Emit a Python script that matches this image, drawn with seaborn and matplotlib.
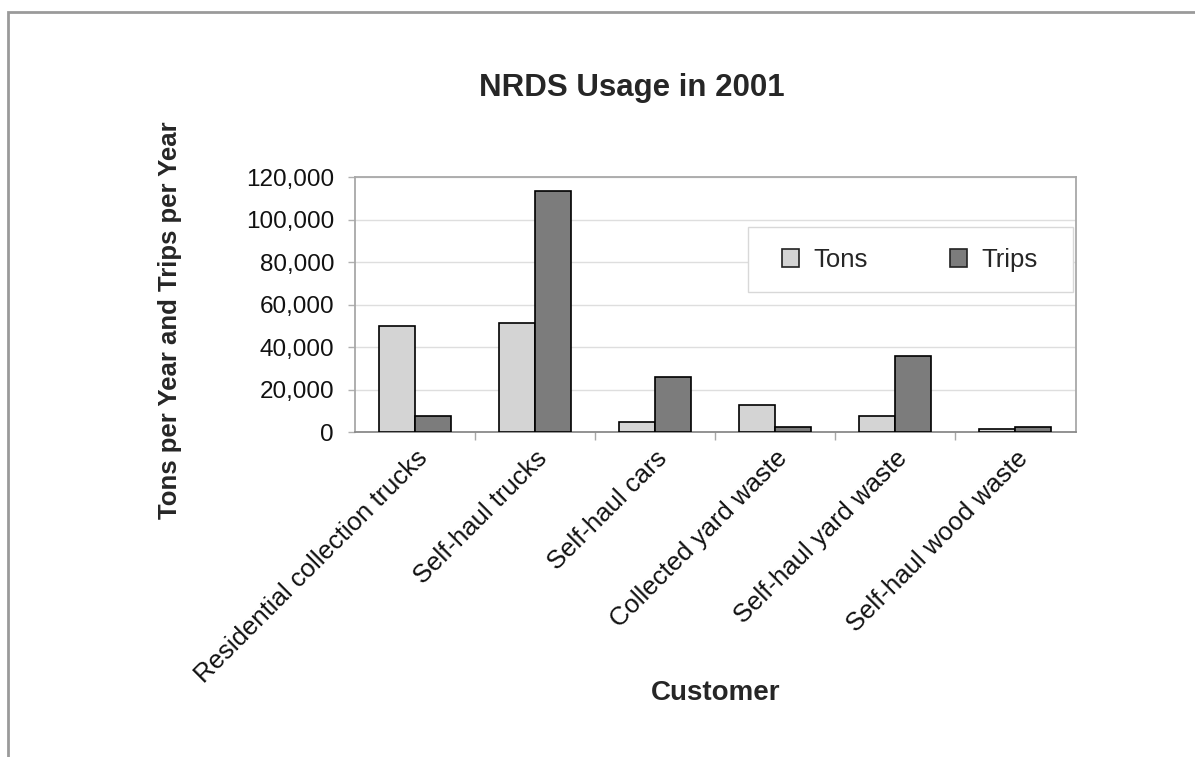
import matplotlib
matplotlib.use("Agg")
import matplotlib.pyplot as plt
from matplotlib.patches import Rectangle
from matplotlib.ticker import FuncFormatter, FixedLocator
import seaborn as sns
import pandas as pd

customers = [
    "Residential collection trucks",
    "Self-haul trucks",
    "Self-haul cars",
    "Collected yard waste",
    "Self-haul yard waste",
    "Self-haul wood waste",
]
tons = [50000, 51500, 5000, 13000, 7500, 1500]
trips = [7500, 113500, 26000, 2500, 36000, 2500]
series = ["Tons", "Trips"]
colors = ["#d4d4d4", "#7c7c7c"]

df = pd.DataFrame({
    "Customer": customers * 2,
    "Series": [series[0]] * len(customers) + [series[1]] * len(customers),
    "Value": tons + trips,
})

sns.set_theme(style="white")
plt.rcParams["font.family"] = ["Liberation Sans", "DejaVu Sans"]

fig = plt.figure(figsize=(11.95, 7.57), dpi=100)
ax = fig.add_axes([0.297, 0.429, 0.603, 0.337])

sns.barplot(data=df, x="Customer", y="Value", hue="Series", order=customers,
            hue_order=series, palette=colors, width=0.6, edgecolor="black",
            linewidth=1.2, saturation=1, ax=ax, zorder=3)

ax.set_ylim(0, 120000)
ax.set_xlim(-0.5, len(customers) - 0.5)
ax.set_yticks(range(0, 120001, 20000))
ax.yaxis.set_major_formatter(FuncFormatter(lambda v, p: f"{int(v):,}"))
ax.grid(axis="y", color="#dedede", linewidth=1, zorder=0)
ax.set_axisbelow(True)

for s in ax.spines.values():
    s.set_visible(True)
    s.set_color("#a8a8a8")
    s.set_linewidth(1.3)
ax.spines["bottom"].set_color("#8a8a8a")

ax.tick_params(axis="y", labelsize=17.5, color="#b0b0b0", labelcolor="#111111",
               length=5, width=1, direction="out", left=True, pad=10)
ax.set_xticks(range(len(customers)))
ax.set_xticklabels(customers, rotation=45, ha="right", rotation_mode="anchor",
                   fontsize=18.5, color="#111111")
ax.tick_params(axis="x", length=0, pad=10)
ax.xaxis.set_minor_locator(FixedLocator([i + 0.5 for i in range(len(customers) - 1)]))
ax.tick_params(axis="x", which="minor", length=6, width=1, color="#a8a8a8",
               direction="out", bottom=True)

ax.set_xlabel("Customer", fontsize=20, fontweight="bold")
ax.set_ylabel("Tons per Year and Trips per Year", fontsize=18.5,
              fontweight="bold")
ax.xaxis.set_label_coords(0.5, -0.97)
ax.yaxis.set_label_coords(-0.24, 0.44)

# legend entries laid out in one row, with a separate square frame around them
leg = ax.legend(loc="center", bbox_to_anchor=(0.770, 0.675), ncol=2,
                fontsize=18.5, frameon=False, handlelength=0.68,
                handleheight=0.68, columnspacing=3.2, handletextpad=0.55,
                borderaxespad=0)
leg.set_title(None)
for h in leg.legend_handles:
    h.set_edgecolor("#222222")
    h.set_linewidth(1.2)
ax.add_patch(Rectangle((0.545, 0.549), 0.451, 0.255, transform=ax.transAxes,
                       fill=True, facecolor="white", edgecolor="#d8d8d8",
                       linewidth=1, zorder=4))
leg.set_zorder(5)

fig.text(0.529, 0.884, "NRDS Usage in 2001", ha="center", va="center",
         fontsize=22.5, fontweight="bold")

# outer page frame
fig.add_artist(Rectangle((0.007, -0.01), 1.2, 0.994, transform=fig.transFigure,
                         fill=False, edgecolor="#9a9a9a", linewidth=2))

fig.savefig("out.png", dpi=100, facecolor="white")
